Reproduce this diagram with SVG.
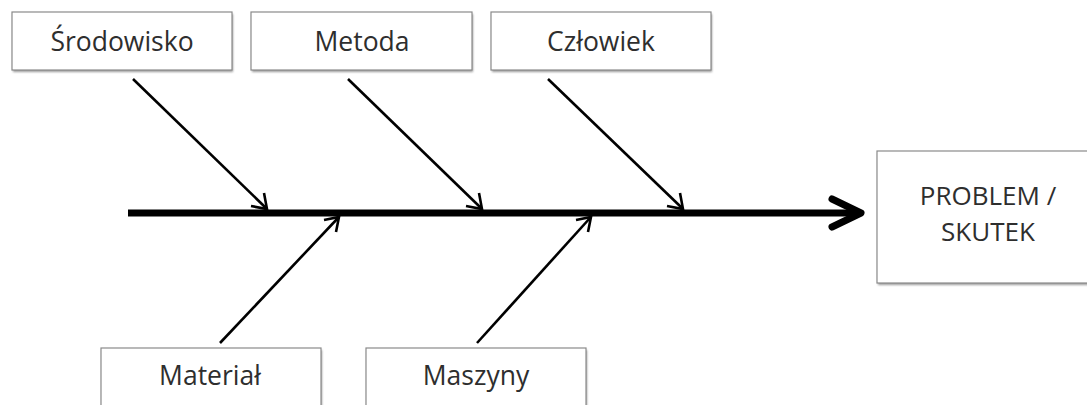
<svg xmlns="http://www.w3.org/2000/svg" width="1087" height="405" viewBox="0 0 1087 405">
<style>
.box{fill:#fff;stroke:#8a8a8a;stroke-width:1.2}
.sh{fill:#9a9a9a;filter:url(#blur)}
.lbl{font-family:"Open Sans","Liberation Sans",sans-serif;font-size:26.5px;fill:#2e2e2e;text-anchor:middle}
.big{font-size:26px}
.bone{stroke:#000;stroke-width:2.6;fill:none}
.head{stroke:#000;stroke-width:2.6;fill:none;stroke-linejoin:miter}
</style>
<defs>
<filter id="blur" x="-10%" y="-10%" width="120%" height="130%"><feGaussianBlur stdDeviation="1.2"/></filter>
</defs>
<rect width="1087" height="405" fill="#fff"/>
<g id="node-srodowisko">
<rect class="sh" x="13" y="14" width="220" height="58"/>
<rect class="box" x="12" y="12" width="220" height="58"/>
<text class="lbl" x="122" y="51">Środowisko</text>
</g>
<g id="node-metoda">
<rect class="sh" x="252" y="14" width="221" height="58"/>
<rect class="box" x="251" y="12" width="221" height="58"/>
<text class="lbl" x="362" y="51">Metoda</text>
</g>
<g id="node-czlowiek">
<rect class="sh" x="492" y="14" width="220" height="58"/>
<rect class="box" x="491" y="12" width="220" height="58"/>
<text class="lbl" x="601" y="51">Człowiek</text>
</g>
<g id="node-problem">
<rect class="sh" x="878" y="153" width="215" height="132"/>
<rect class="box" x="877" y="151" width="215" height="132"/>
<text class="lbl big" x="988" y="205">PROBLEM /</text>
<text class="lbl big" x="988" y="241">SKUTEK</text>
</g>
<g id="node-material">
<rect class="sh" x="102" y="350" width="220" height="70"/>
<rect class="box" x="101" y="348" width="220" height="70"/>
<text class="lbl" x="210" y="385">Materiał</text>
</g>
<g id="node-maszyny">
<rect class="sh" x="367" y="350" width="220" height="70"/>
<rect class="box" x="366" y="348" width="220" height="70"/>
<text class="lbl" x="476" y="385">Maszyny</text>
</g>
<g id="connectors">
<line x1="128" y1="213" x2="858" y2="213" stroke="#000" stroke-width="7"/>
<polyline points="832,199 861,213 832,227" fill="none" stroke="#000" stroke-width="7" stroke-linejoin="round" stroke-linecap="round"/>
<line class="bone" x1="133" y1="79" x2="266" y2="208"/>
<polyline class="head" points="264,193 267,209 251,206"/>
<line class="bone" x1="348" y1="79" x2="481" y2="208"/>
<polyline class="head" points="479,193 482,209 466,206"/>
<line class="bone" x1="548" y1="79" x2="682" y2="208"/>
<polyline class="head" points="680,193 683,209 667,206"/>
<line class="bone" x1="220" y1="343" x2="338" y2="218"/>
<polyline class="head" points="324,220 339,217 336,232"/>
<line class="bone" x1="477" y1="343" x2="590" y2="218"/>
<polyline class="head" points="576,220 591,217 588,232"/>
</g>
</svg>
